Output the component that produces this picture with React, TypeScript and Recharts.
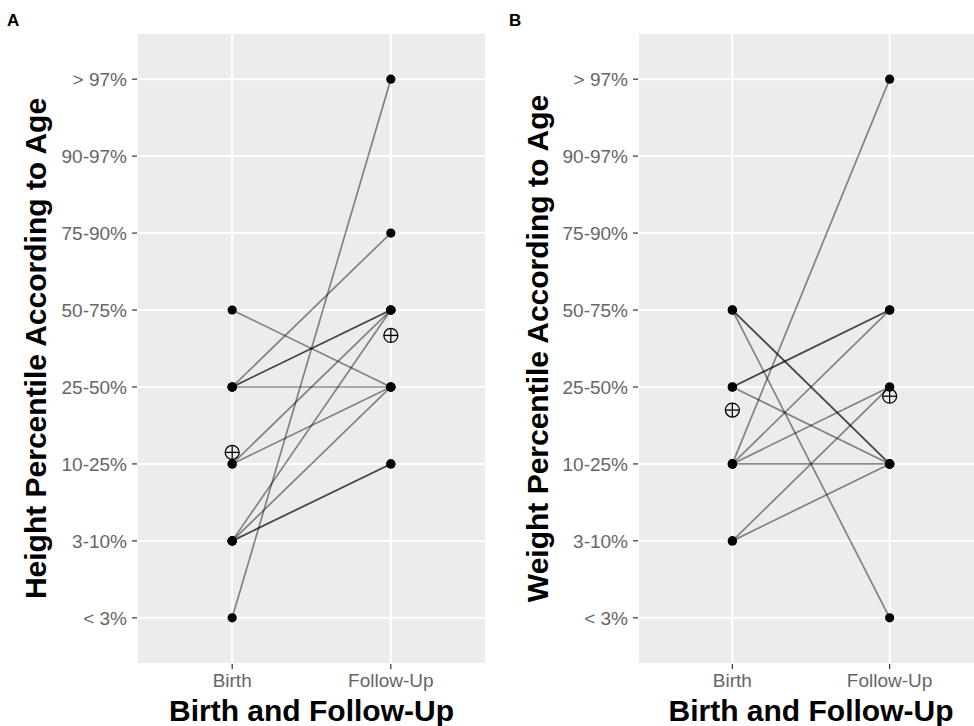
import React from 'react';
import { ScatterChart, Scatter, XAxis, YAxis, CartesianGrid, Label } from 'recharts';

const percentileLabels = ['< 3%', '3-10%', '10-25%', '25-50%', '50-75%', '75-90%', '90-97%', '> 97%'];
const percentileTicks = [1, 2, 3, 4, 5, 6, 7, 8];
const timeLabels = ['Birth', 'Follow-Up'];
const timeTicks = [1, 2];

const heightBirth = [1, 4, 4, 4, 4, 5, 3, 3, 2, 2, 2, 2];
const heightFollowUp = [8, 6, 5, 5, 4, 4, 5, 4, 5, 4, 3, 3];
const heightMean = [3.15, 4.67];

const weightBirth = [5, 5, 5, 4, 4, 4, 3, 3, 3, 3, 2, 2];
const weightFollowUp = [3, 3, 1, 5, 5, 3, 8, 5, 4, 3, 4, 3];
const weightMean = [3.7, 3.88];

const FONT = '"Liberation Sans", Arial, Helvetica, sans-serif';

const NoShape = () => <g />;

const MeanShape = (props: any) => {
  const { cx, cy } = props;
  const r = 7;
  return (
    <g>
      <circle cx={cx} cy={cy} r={r} fill="none" stroke="#000" strokeWidth={1.3} />
      <line x1={cx - r} x2={cx + r} y1={cy} y2={cy} stroke="#000" strokeWidth={1.3} />
      <line x1={cx} x2={cx} y1={cy - r} y2={cy + r} stroke="#000" strokeWidth={1.3} />
    </g>
  );
};

const DotShape = (props: any) => {
  const { cx, cy } = props;
  return <circle cx={cx} cy={cy} r={4.6} fill="#000" />;
};

type PanelProps = {
  birth: number[];
  follow: number[];
  mean: number[];
  yTitle: string;
  width: number;
  marginRight: number;
  yTitleX: number;
};

const PLOT_TOP = 33;
const PLOT_H = 631;
const Y_AXIS_W = 137;
const X_AXIS_H = 62;

function Panel({ birth, follow, mean, yTitle, width, marginRight, yTitleX }: PanelProps) {
  const pairs = birth.map((b, i) => [
    { x: 1, y: b },
    { x: 2, y: follow[i] },
  ]);
  const points = [
    ...birth.map((b) => ({ x: 1, y: b })),
    ...follow.map((f) => ({ x: 2, y: f })),
  ];
  const means = mean.map((m, i) => ({ x: i + 1, y: m }));
  const plotW = width - Y_AXIS_W - marginRight;
  const xCenter = Y_AXIS_W + plotW / 2;
  const yCenter = PLOT_TOP + PLOT_H / 2;

  return (
    <ScatterChart
      width={width}
      height={PLOT_TOP + PLOT_H + X_AXIS_H}
      margin={{ top: PLOT_TOP, right: marginRight, bottom: 0, left: 0 }}
      style={{ fontFamily: FONT }}
    >
      <CartesianGrid fill="#ECECEC" fillOpacity={1} stroke="#FFFFFF" strokeWidth={2} />
      <XAxis
        type="number"
        dataKey="x"
        domain={[0.4, 2.6]}
        ticks={timeTicks}
        interval={0}
        tickFormatter={(v: number) => timeLabels[v - 1]}
        axisLine={false}
        tickLine={{ stroke: '#333333', strokeWidth: 1.2 }}
        tickSize={5}
        tickMargin={5}
        height={X_AXIS_H}
        tick={{ fill: '#666666', fontSize: 19, fontFamily: FONT }}
        allowDataOverflow
      >
        <Label
          content={() => (
            <text
              x={xCenter}
              y={721}
              textAnchor="middle"
              fontSize={30}
              fontWeight="bold"
              fill="#000"
              fontFamily={FONT}
            >
              Birth and Follow-Up
            </text>
          )}
        />
      </XAxis>
      <YAxis
        type="number"
        dataKey="y"
        domain={[0.4, 8.6]}
        ticks={percentileTicks}
        interval={0}
        tickFormatter={(v: number) => percentileLabels[v - 1]}
        axisLine={false}
        tickLine={{ stroke: '#333333', strokeWidth: 1.2 }}
        tickSize={5}
        tickMargin={5}
        width={Y_AXIS_W}
        tick={{ fill: '#666666', fontSize: 19, fontFamily: FONT }}
        allowDataOverflow
      >
        <Label
          content={() => (
            <text
              x={0}
              y={0}
              transform={`translate(${yTitleX}, ${yCenter}) rotate(-90)`}
              textAnchor="middle"
              fontSize={30}
              fontWeight="bold"
              fill="#000"
              fontFamily={FONT}
            >
              {yTitle}
            </text>
          )}
        />
      </YAxis>
      {pairs.map((p, i) => (
        <Scatter
          key={`l${i}`}
          data={p}
          line={{ stroke: '#000', strokeOpacity: 0.45, strokeWidth: 1.7 }}
          shape={NoShape}
          isAnimationActive={false}
        />
      ))}
      <Scatter data={points} shape={DotShape} isAnimationActive={false} />
      <Scatter data={means} shape={MeanShape} isAnimationActive={false} />
    </ScatterChart>
  );
}

export default function App() {
  return (
    <div
      style={{
        position: 'absolute',
        left: 0,
        top: 0,
        width: 974,
        height: 726,
        overflow: 'hidden',
        background: '#fff',
      }}
    >
      <div style={{ position: 'absolute', left: 0, top: 0 }}>
        <Panel
          birth={heightBirth}
          follow={heightFollowUp}
          mean={heightMean}
          yTitle="Height Percentile According to Age"
          width={500}
          marginRight={14}
          yTitleX={46}
        />
      </div>
      <div style={{ position: 'absolute', left: 501, top: 0 }}>
        <Panel
          birth={weightBirth}
          follow={weightFollowUp}
          mean={weightMean}
          yTitle="Weight Percentile According to Age"
          width={483}
          marginRight={0}
          yTitleX={47}
        />
      </div>
      <svg
        width={974}
        height={32}
        style={{ position: 'absolute', left: 0, top: 0, overflow: 'visible' }}
      >
        <text x={7} y={26} fontSize={17} fontWeight="bold" fill="#000" fontFamily={FONT}>
          A
        </text>
        <text x={509} y={26} fontSize={17} fontWeight="bold" fill="#000" fontFamily={FONT}>
          B
        </text>
      </svg>
    </div>
  );
}
